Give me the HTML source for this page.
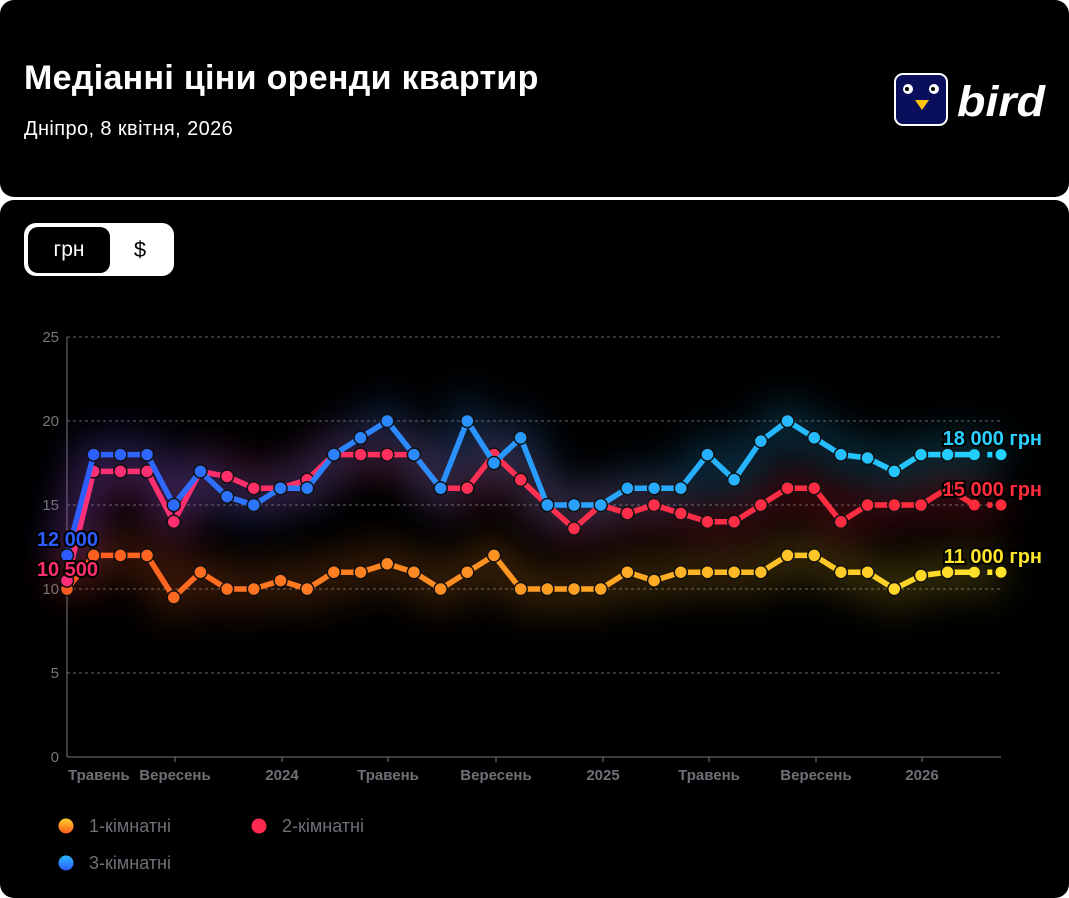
<!DOCTYPE html>
<html><head><meta charset="utf-8"><style>
html,body{margin:0;padding:0;background:#fff;width:1069px;height:898px;overflow:hidden;font-family:"Liberation Sans",sans-serif}
.card{position:absolute;left:0;width:1069px;background:#000;border-radius:14px}
</style></head><body>
<div class="card" style="top:0;height:197px"></div>
<div class="card" style="top:200px;height:698px"></div>
<div style="position:absolute;left:24px;top:59px;color:#fff;font-weight:bold;font-size:34px;letter-spacing:0.3px">Медіанні ціни оренди квартир</div>
<div style="position:absolute;left:24px;top:118px;color:#fff;font-size:20px;letter-spacing:0.4px">Дніпро, 8 квітня, 2026</div>
<svg style="position:absolute;left:894px;top:73px" width="170" height="54">
<rect x="1" y="1" width="52" height="51" rx="8" fill="#0a0f5c" stroke="#fff" stroke-width="2"/>
<circle cx="14" cy="16" r="5" fill="#fff"/><circle cx="13" cy="16" r="2" fill="#000"/>
<circle cx="40" cy="16" r="5" fill="#fff"/><circle cx="39" cy="16" r="2" fill="#000"/>
<polygon points="21,27 35,27 28,37" fill="#ffc20e"/>
<text x="63" y="43" fill="#fff" font-size="43" font-weight="bold" font-style="italic" font-family="Liberation Sans, sans-serif" textLength="88" lengthAdjust="spacingAndGlyphs">bird</text>
</svg>
<div style="position:absolute;left:24px;top:223px;width:150px;height:53px;background:#fff;border-radius:12px"></div>
<div style="position:absolute;left:28px;top:227px;width:82px;height:46px;background:#000;border-radius:10px;color:#fff;font-size:21px;line-height:46px;text-align:center">грн</div>
<div style="position:absolute;left:110px;top:227px;width:60px;height:46px;color:#000;font-size:22px;line-height:46px;text-align:center">$</div>
<svg id="c" style="position:absolute;left:0;top:0" width="1069" height="898"></svg>
<script>
var X=function(i){return 67+i*26.686;},Y=function(v){return 757-v*16.8;};
var d1=[10,12,12,12,9.5,11,10,10,10.5,10,11,11,11.5,11,10,11,12,10,10,10,10,11,10.5,11,11,11,11,12,12,11,11,10,10.8,11,11,11];
var d2=[10.5,17,17,17,14,17,16.7,16,16,16.5,18,18,18,18,16,16,18,16.5,15,13.6,15,14.5,15,14.5,14,14,15,16,16,14,15,15,15,16,15,15];
var d3=[12,18,18,18,15,17,15.5,15,16,16,18,19,20,18,16,20,17.5,19,15,15,15,16,16,16,18,16.5,18.8,20,19,18,17.8,17,18,18,18,18];
var s='<defs><filter id="b" filterUnits="userSpaceOnUse" x="0" y="250" width="1069" height="500"><feGaussianBlur stdDeviation="20"/></filter>';
var G=[["g1",["#ff5a1f","#ff9a22","#ffe52a"]],["g2",["#ff2f7a","#ff3050","#ff2a3a"]],["g3",["#2f5cff","#2a9cff","#22d2ff"]]];
G.forEach(function(g){s+='<linearGradient id="'+g[0]+'" gradientUnits="userSpaceOnUse" x1="67" y1="0" x2="1001" y2="0"><stop offset="0" stop-color="'+g[1][0]+'"/><stop offset="0.5" stop-color="'+g[1][1]+'"/><stop offset="1" stop-color="'+g[1][2]+'"/></linearGradient>';});
s+='</defs>';
[5,10,15,20,25].forEach(function(v){s+='<line x1="67" x2="1000" y1="'+Y(v)+'" y2="'+Y(v)+'" stroke="#666" stroke-dasharray="3,3"/>';});
for(var v=0;v<=25;v+=5)s+='<text x="59" y="'+(Y(v)+5)+'" fill="#777" font-size="15" text-anchor="end">'+v+'</text>';
s+='<line x1="67" x2="67" y1="337" y2="757" stroke="#777"/><line x1="67" x2="1001" y1="757" y2="757" stroke="#777"/>';
[175,282,388,496,603,709,816,922].forEach(function(x){s+='<line x1="'+x+'" x2="'+x+'" y1="757" y2="762" stroke="#777"/>';});
[["Травень",68,"start"],["Вересень",175,"middle"],["2024",282,"middle"],["Травень",388,"middle"],["Вересень",496,"middle"],["2025",603,"middle"],["Травень",709,"middle"],["Вересень",816,"middle"],["2026",922,"middle"]].forEach(function(t){s+='<text x="'+t[1]+'" y="780" fill="#6f6f78" font-size="15" font-weight="bold" text-anchor="'+t[2]+'">'+t[0]+'</text>';});
function path(d,n){var p='';for(var i=0;i<n;i++)p+=(i?'L':'M')+X(i).toFixed(1)+','+Y(d[i]).toFixed(1);return p;}
var S=[[d1,"g1"],[d2,"g2"],[d3,"g3"]];
S.forEach(function(q){s+='<path d="'+path(q[0],36)+'" fill="none" stroke="url(#'+q[1]+')" stroke-width="34" opacity="0.25" filter="url(#b)"/>';});
S.forEach(function(q){var d=q[0];
s+='<path d="'+path(d,35)+'" fill="none" stroke="url(#'+q[1]+')" stroke-width="5.5" stroke-linejoin="round"/>';
s+='<path d="M'+X(34)+','+Y(d[34])+'L'+X(35)+','+Y(d[35])+'" fill="none" stroke="url(#'+q[1]+')" stroke-width="5.5" stroke-dasharray="5,8"/>';
for(var i=0;i<36;i++){var last=i>=34;s+='<circle cx="'+X(i)+'" cy="'+Y(d[i])+'" r="'+(last?5.5:6.5)+'" fill="url(#'+q[1]+')" '+(last?'':'stroke="#111" stroke-width="1.5"')+'/>';}
});
function lab(x,y,t,c,a){s+='<text x="'+x+'" y="'+y+'" fill="'+c+'" font-size="20" font-weight="bold" text-anchor="'+a+'" stroke="#000" stroke-width="4" paint-order="stroke">'+t+'</text>';}
lab(1042,445,"18 000 грн","#2ad0ff","end");lab(1042,496,"15 000 грн","#ff2a3a","end");lab(1042,563,"11 000 грн","#ffe52a","end");
lab(98,576,"10 500","#ff2f6a","end");lab(98,546,"12 000","#2f5cff","end");
s+='<linearGradient id="l1" x1="0" y1="0" x2="0" y2="1"><stop offset="0" stop-color="#ffd22a"/><stop offset="1" stop-color="#ff5a1f"/></linearGradient><linearGradient id="l3" x1="0" y1="0" x2="0" y2="1"><stop offset="0" stop-color="#2ab8ff"/><stop offset="1" stop-color="#2f5cff"/></linearGradient>';
s+='<circle cx="66" cy="826" r="7.5" fill="url(#l1)"/><text x="89" y="832" fill="#6f6f78" font-size="18">1-кімнатні</text>';
s+='<circle cx="259" cy="826" r="7.5" fill="#ff2a50"/><text x="282" y="832" fill="#6f6f78" font-size="18">2-кімнатні</text>';
s+='<circle cx="66" cy="863" r="7.5" fill="url(#l3)"/><text x="89" y="869" fill="#6f6f78" font-size="18">3-кімнатні</text>';
document.getElementById('c').innerHTML=s;
</script>
</body></html>
